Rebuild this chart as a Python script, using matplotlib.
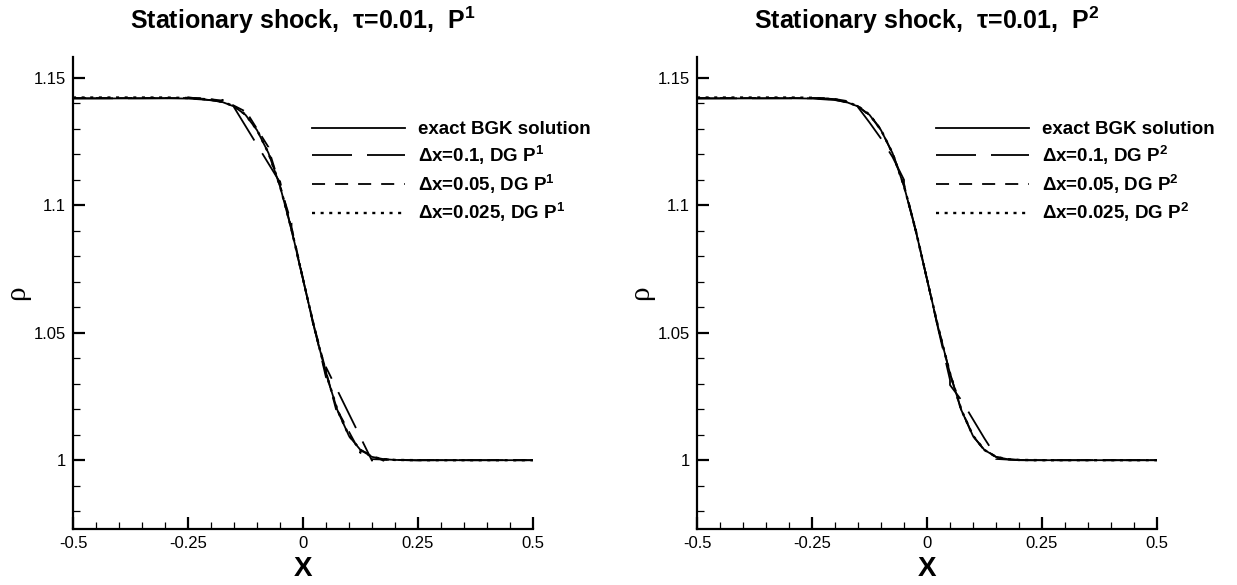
import matplotlib
matplotlib.use('Agg')
import matplotlib.pyplot as plt
from matplotlib.ticker import FixedLocator, MultipleLocator

plt.rcParams['font.family'] = ['Liberation Sans', 'DejaVu Sans']
plt.rcParams['mathtext.fontset'] = 'custom'
plt.rcParams['mathtext.rm'] = 'Liberation Sans:bold'
plt.rcParams['mathtext.it'] = 'Liberation Sans:bold'
plt.rcParams['mathtext.bf'] = 'Liberation Sans:bold'
plt.rcParams['lines.scale_dashes'] = False

# ---------------- data ----------------
titles = ['Stationary shock,  τ=0.01,  P$^1$', 'Stationary shock,  τ=0.01,  P$^2$']
legend_labels_p1 = ['exact BGK solution', 'Δx=0.1, DG P$^1$', 'Δx=0.05, DG P$^1$', 'Δx=0.025, DG P$^1$']
legend_labels_p2 = ['exact BGK solution', 'Δx=0.1, DG P$^2$', 'Δx=0.05, DG P$^2$', 'Δx=0.025, DG P$^2$']
xtick_vals = [-0.5, -0.25, 0, 0.25, 0.5]
xtick_labels = ['-0.5', '-0.25', '0', '0.25', '0.5']
ytick_vals = [1.0, 1.05, 1.1, 1.15]
ytick_labels = ['1', '1.05', '1.1', '1.15']

x_exact = [-0.5, -0.3, -0.25, -0.2, -0.175, -0.15, -0.125, -0.1, -0.075, -0.05, -0.025, 0.0,
           0.025, 0.05, 0.075, 0.1, 0.125, 0.15, 0.175, 0.2, 0.25, 0.3, 0.5]
rho_exact = [1.1419, 1.1420, 1.1419, 1.1413, 1.1405, 1.1388, 1.1355, 1.1295, 1.1205, 1.1075, 1.0905, 1.0710,
             1.0515, 1.0340, 1.0195, 1.0095, 1.0040, 1.0013, 1.0004, 1.0001, 1.0, 1.0, 1.0]

# P1, dx = 0.1 (cell edge values, discontinuous)
x_p1_dx01 = [-0.5, -0.45, -0.45, -0.35, -0.35, -0.25, -0.25, -0.15, -0.15, -0.05, -0.05, 0.05,
             0.05, 0.15, 0.15, 0.25, 0.25, 0.35, 0.35, 0.45, 0.45, 0.5]
rho_p1_dx01 = [1.1420, 1.1420, 1.1420, 1.1420, 1.1420, 1.1421, 1.1424, 1.1400, 1.1385, 1.1090, 1.1095, 1.0325,
               1.0365, 0.9998, 1.0004, 0.9999, 1.0, 1.0, 1.0, 1.0, 1.0, 1.0]

# P1, dx = 0.05
x_p1_dx005 = [-0.5, -0.225, -0.225, -0.175, -0.175, -0.125, -0.125, -0.075, -0.075, -0.025, -0.025, 0.025,
              0.025, 0.075, 0.075, 0.125, 0.125, 0.175, 0.175, 0.225, 0.225, 0.5]
rho_p1_dx005 = [1.1421, 1.1421, 1.1421, 1.1411, 1.1414, 1.1368, 1.1372, 1.1228, 1.1222, 1.0930, 1.0915, 1.0510,
                1.0520, 1.0178, 1.0195, 1.0028, 1.0040, 0.9998, 1.0003, 1.0000, 1.0, 1.0]

# P1, dx = 0.025
x_p1_dx0025 = [-0.5, -0.3, -0.25, -0.2, -0.175, -0.15, -0.125, -0.1, -0.075, -0.05, -0.025, 0.0,
               0.025, 0.05, 0.075, 0.1, 0.125, 0.15, 0.175, 0.2, 0.25, 0.5]
rho_p1_dx0025 = [1.1423, 1.1423, 1.1421, 1.1415, 1.1406, 1.1389, 1.1356, 1.1296, 1.1205, 1.1076, 1.0906, 1.0711,
                 1.0516, 1.0341, 1.0196, 1.0096, 1.0040, 1.0013, 1.0004, 1.0001, 1.0, 1.0]

# P2, dx = 0.1 (values inside each cell)
x_p2_dx01 = [-0.5, -0.25, -0.25, -0.2, -0.15, -0.15, -0.125, -0.1, -0.075, -0.05,
             -0.05, -0.025, 0.0, 0.025, 0.05, 0.05, 0.075, 0.1, 0.125, 0.15, 0.15, 0.2, 0.25, 0.25, 0.5]
rho_p2_dx01 = [1.1420, 1.1420, 1.1421, 1.1417, 1.1402, 1.1385, 1.1325, 1.1262, 1.1190, 1.1100,
               1.1085, 1.0905, 1.0710, 1.0510, 1.0315, 1.0295, 1.0235, 1.0160, 1.0085, 1.0015, 1.0005, 1.0000, 0.9999, 1.0, 1.0]

# P2, dx = 0.05
x_p2_dx005 = [-0.5, -0.225, -0.225, -0.2, -0.175, -0.175, -0.15, -0.125, -0.125, -0.1, -0.075,
              -0.075, -0.05, -0.025, -0.025, 0.0, 0.025, 0.025, 0.05, 0.075, 0.075, 0.1, 0.125,
              0.125, 0.15, 0.175, 0.175, 0.2, 0.225, 0.225, 0.5]
rho_p2_dx005 = [1.1421, 1.1421, 1.1421, 1.1414, 1.1404, 1.1407, 1.1389, 1.1352, 1.1357, 1.1297, 1.1203,
                1.1207, 1.1076, 1.0903, 1.0907, 1.0710, 1.0512, 1.0517, 1.0340, 1.0193, 1.0197, 1.0095, 1.0038,
                1.0042, 1.0013, 1.0002, 1.0003, 1.0001, 1.0000, 1.0, 1.0]

# P2, dx = 0.025
x_p2_dx0025 = [-0.5, -0.3, -0.25, -0.2, -0.175, -0.15, -0.125, -0.1, -0.075, -0.05, -0.025, 0.0,
               0.025, 0.05, 0.075, 0.1, 0.125, 0.15, 0.175, 0.2, 0.25, 0.5]
rho_p2_dx0025 = [1.1423, 1.1423, 1.1422, 1.1416, 1.1406, 1.1389, 1.1356, 1.1296, 1.1205, 1.1076, 1.0906, 1.0711,
                 1.0516, 1.0341, 1.0196, 1.0096, 1.0040, 1.0013, 1.0004, 1.0001, 1.0, 1.0]

panels = [
    (titles[0], legend_labels_p1, [(x_exact, rho_exact), (x_p1_dx01, rho_p1_dx01),
                                   (x_p1_dx005, rho_p1_dx005), (x_p1_dx0025, rho_p1_dx0025)]),
    (titles[1], legend_labels_p2, [(x_exact, rho_exact), (x_p2_dx01, rho_p2_dx01),
                                   (x_p2_dx005, rho_p2_dx005), (x_p2_dx0025, rho_p2_dx0025)]),
]

# ---------------- style ----------------
W, H = 1237, 585
styles = ['-', (0, (28.8, 10.8)), (0, (9.4, 7.2)), (0, (2.2, 4.0))]
widths = [1.3, 1.3, 1.3, 1.7]

fig = plt.figure(figsize=(W / 100, H / 100), dpi=100)
ax_lefts = [73, 697]
ax_top, ax_bot, ax_w = 57, 529, 460

for left, (title, labels, series) in zip(ax_lefts, panels):
    ax = fig.add_axes([left / W, 1 - ax_bot / H, ax_w / W, (ax_bot - ax_top) / H])
    handles = []
    for (xs, ys), ls, lw in zip(series, styles, widths):
        h, = ax.plot(xs, ys, color='black', linestyle=ls, linewidth=lw)
        handles.append(h)
    ax.set_xlim(-0.5, 0.5)
    ax.set_ylim(0.973, 1.1582)
    for s in ['top', 'right']:
        ax.spines[s].set_visible(False)
    for s in ['left', 'bottom']:
        ax.spines[s].set_linewidth(1.6)
    ax.xaxis.set_major_locator(FixedLocator(xtick_vals))
    ax.set_xticklabels(xtick_labels)
    ax.yaxis.set_major_locator(FixedLocator(ytick_vals))
    ax.set_yticklabels(ytick_labels)
    ax.xaxis.set_minor_locator(MultipleLocator(0.05))
    ax.yaxis.set_minor_locator(MultipleLocator(0.01))
    ax.tick_params(which='major', direction='in', length=8.5, width=1.6, labelsize=12, pad=5)
    ax.tick_params(which='minor', direction='in', length=5, width=0.9)
    ax.set_title(title, fontsize=18, fontweight='bold', pad=20)
    ax.set_xlabel('X', fontsize=20, fontweight='bold', labelpad=4)
    ax.set_ylabel('ρ', fontsize=21, family='Liberation Serif', labelpad=2.5)
    ax.legend(handles, labels, loc='upper left', bbox_to_anchor=(239 / ax_w, 0.864),
              frameon=False, prop={'weight': 'bold', 'size': 13.5},
              handlelength=4.96, handletextpad=0.7, labelspacing=0.3,
              borderpad=0, borderaxespad=0)

fig.savefig('out.png', dpi=100)
